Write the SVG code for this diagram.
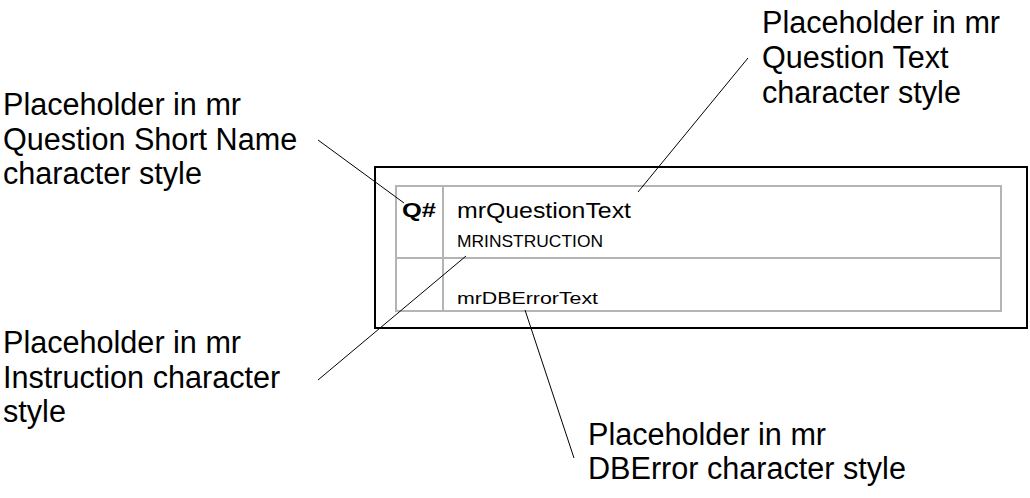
<svg xmlns="http://www.w3.org/2000/svg" width="1030" height="498" viewBox="0 0 1030 498">
<style>
.lbl{font-family:"Liberation Sans",Arial,sans-serif;font-size:30.6px;fill:#000}
.t{font-family:"Liberation Sans",Arial,sans-serif;fill:#000}
.grid{stroke:#b4b4b4;stroke-width:2;fill:none}
.lead{stroke:#000;stroke-width:1;fill:none}
</style>
<rect width="1030" height="498" fill="#fff"/>
<g id="form">
<rect x="375" y="167" width="652" height="161" fill="none" stroke="#000" stroke-width="2"/>
<rect class="grid" x="396" y="186" width="605" height="125"/>
<line class="grid" x1="396" y1="258" x2="1001" y2="258"/>
<line class="grid" x1="443" y1="186" x2="443" y2="311"/>
<text class="t" x="402" y="217" font-size="20" font-weight="bold" textLength="34" lengthAdjust="spacingAndGlyphs">Q#</text>
<text class="t" x="457" y="218" font-size="22" textLength="174" lengthAdjust="spacingAndGlyphs">mrQuestionText</text>
<text class="t" x="457" y="247" font-size="17" textLength="146" lengthAdjust="spacingAndGlyphs">MRINSTRUCTION</text>
<text class="t" x="457" y="304" font-size="16" textLength="141" lengthAdjust="spacingAndGlyphs">mrDBErrorText</text>
</g>
<g id="label-shortname">
<text class="lbl" x="3" y="115">Placeholder in mr</text>
<text class="lbl" x="3" y="150">Question Short Name</text>
<text class="lbl" x="3" y="184">character style</text>
</g>
<g id="label-questiontext">
<text class="lbl" x="762" y="33">Placeholder in mr</text>
<text class="lbl" x="762" y="68">Question Text</text>
<text class="lbl" x="762" y="103">character style</text>
</g>
<g id="label-instruction">
<text class="lbl" x="3" y="353">Placeholder in mr</text>
<text class="lbl" x="3" y="388">Instruction character</text>
<text class="lbl" x="3" y="422">style</text>
</g>
<g id="label-dberror">
<text class="lbl" x="588" y="445">Placeholder in mr</text>
<text class="lbl" x="588" y="479">DBError character style</text>
</g>
<g id="connectors">
<line class="lead" x1="318" y1="140" x2="404" y2="203"/>
<line class="lead" x1="748" y1="58" x2="638" y2="192"/>
<line class="lead" x1="318" y1="380" x2="466" y2="256"/>
<line class="lead" x1="525" y1="310" x2="574" y2="458"/>
</g>
</svg>
